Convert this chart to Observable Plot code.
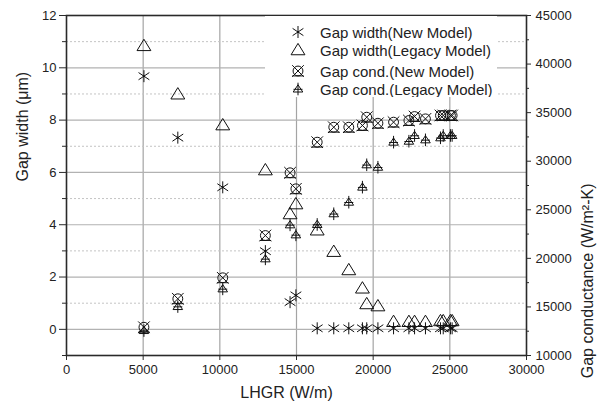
<!DOCTYPE html>
<html>
<head>
<meta charset="utf-8">
<script src="https://cdn.jsdelivr.net/npm/d3@7"></script>
<script src="https://cdn.jsdelivr.net/npm/@observablehq/plot@0.6"></script>
<style>
  html, body { margin: 0; padding: 0; background: #fff; }
  #wrap { position: relative; width: 606px; height: 410px; font-family: "Liberation Sans", Arial, sans-serif; }
  #legend { position: absolute; left: 265px; top: 16px; width: 232px; height: 81px; background: #fff; }
</style>
</head>
<body>
<div id="wrap"><div id="chart"></div><svg id="legend" width="232" height="81"></svg></div>
<script>
// ---- data ----
const lhgr = [5050, 7260, 10190, 12970, 14580, 14960, 16350, 17430, 18410, 19300, 19580, 20310, 21330, 22330, 22700, 23410, 24390, 24570, 25040, 25150];
const gapWidthNew = [9.68, 7.33, 5.43, 2.99, 1.04, 1.30, 0.04, 0.04, 0.04, 0.04, 0.04, 0.04, 0.04, 0.04, 0.04, 0.04, 0.04, 0.04, 0.04, 0.04];
const gapWidthLegacy = [10.84, 8.99, 7.81, 6.09, 4.41, 4.79, 3.79, 2.97, 2.27, 1.57, 0.97, 0.89, 0.29, 0.29, 0.29, 0.29, 0.32, 0.32, 0.32, 0.32];
const gapCondNew = [12910, 15840, 18000, 22350, 28810, 27160, 31960, 33500, 33500, 33680, 34530, 33910, 34020, 34190, 34600, 34360, 34710, 34710, 34710, 34710];
const gapCondLegacy = [12570, 15040, 16860, 19950, 23450, 22420, 23490, 24590, 25780, 27330, 29630, 29380, 31960, 32060, 32650, 32200, 32410, 32650, 32650, 32650];

const seriesNames = ["Gap width(New Model)", "Gap width(Legacy Model)", "Gap cond.(New Model)", "Gap cond.(Legacy Model)"];
const xTicks = [0, 5000, 10000, 15000, 20000, 25000, 30000];
const leftTicks = [0, 2, 4, 6, 8, 10, 12];
const leftMinorTicks = [-1, 1, 3, 5, 7, 9, 11];
const rightTicks = [10000, 15000, 20000, 25000, 30000, 35000, 40000, 45000];
const rightMinorTicks = [12500, 17500, 22500, 27500, 32500, 37500, 42500];

// right axis (conductance) mapped onto the left (width) scale
const leftDomain = [-1, 12];
const rightDomain = [10000, 45000];
const toLeft = c => leftDomain[0] + (c - rightDomain[0]) / (rightDomain[1] - rightDomain[0]) * (leftDomain[1] - leftDomain[0]);
const fromLeft = v => Math.round((rightDomain[0] + (v - leftDomain[0]) / (leftDomain[1] - leftDomain[0]) * (rightDomain[1] - rightDomain[0])) / 10) * 10;

const rows = lhgr.map((x, i) => ({x, wNew: gapWidthNew[i], wLeg: gapWidthLegacy[i], cNew: gapCondNew[i], cLeg: gapCondLegacy[i]}));

// ---- custom symbols ----
const R = s => Math.sqrt(s / Math.PI);
const asterisk = {draw(ctx, size) { const r = R(size);
  ctx.moveTo(0, -r); ctx.lineTo(0, r);
  ctx.moveTo(-r * 0.9, -r * 0.6); ctx.lineTo(r * 0.9, r * 0.6);
  ctx.moveTo(-r * 0.9, r * 0.6); ctx.lineTo(r * 0.9, -r * 0.6);
  ctx.moveTo(0.6, 0); ctx.arc(0, 0, 0.6, 0, 2 * Math.PI);
}};
const triangle = {draw(ctx, size) { const r = R(size);
  ctx.moveTo(0, -r * 1.0); ctx.lineTo(r * 1.05, r * 0.72); ctx.lineTo(-r * 1.05, r * 0.72); ctx.closePath();
}};
const crossCircle = {draw(ctx, size) { const r = R(size);
  const c = r * 0.85;
  ctx.moveTo(c, 0); ctx.arc(0, 0, c, 0, 2 * Math.PI);
  ctx.moveTo(-r, -r); ctx.lineTo(r, r);
  ctx.moveTo(r, -r); ctx.lineTo(-r, r);
  ctx.moveTo(-r, r * 0.85); ctx.lineTo(r, r * 0.85);
}};
const triPlus = {draw(ctx, size) { const r = R(size);
  ctx.moveTo(0, -r * 0.7); ctx.lineTo(r * 0.8, r * 0.5); ctx.lineTo(-r * 0.8, r * 0.5); ctx.closePath();
  ctx.moveTo(0, -r * 1.05); ctx.lineTo(0, r * 1.05);
  ctx.moveTo(-r * 0.75, r * 0.05); ctx.lineTo(r * 0.75, r * 0.05);
}};
const symbols = [asterisk, triangle, crossCircle, triPlus];
const symR = [6, 6.6, 5.8, 6];

const dotStyle = {fill: "none", stroke: "#111", strokeWidth: 1};

const chart = Plot.plot({
  width: 606, height: 410,
  marginLeft: 66, marginRight: 80, marginTop: 15, marginBottom: 55,
  x: {domain: [0, 30000]},
  y: {domain: leftDomain},
  style: {fontFamily: "'Liberation Sans', Arial, sans-serif", fontSize: "13px", color: "#222", background: "#fff"},
  marks: [
    Plot.ruleX(xTicks.slice(1, -1), {stroke: "#a4a4a4", strokeWidth: 1.2}),
    Plot.ruleY(leftTicks.slice(0, -1), {stroke: "#b2b2b2", strokeWidth: 1.2}),
    Plot.ruleY(leftMinorTicks.slice(1), {stroke: "#c4c4c4", strokeWidth: 1, strokeDasharray: "2,2"}),
    Plot.dot(rows, {x: "x", y: "wNew", symbol: asterisk, r: symR[0], ...dotStyle}),
    Plot.dot(rows, {x: "x", y: "wLeg", symbol: triangle, r: symR[1], ...dotStyle}),
    Plot.dot(rows, {x: "x", y: d => toLeft(d.cNew), symbol: crossCircle, r: symR[2], ...dotStyle}),
    Plot.dot(rows, {x: "x", y: d => toLeft(d.cLeg), symbol: triPlus, r: symR[3], ...dotStyle}),
    Plot.frame({stroke: "#2a2a2a", strokeWidth: 1.6}),
    Plot.axisX({ticks: xTicks, tickSize: 5, tickPadding: 4, tickFormat: d => String(d), label: null, stroke: "#2a2a2a"}),
    Plot.axisY({ticks: leftTicks, tickSize: 7, tickPadding: 3, tickFormat: d => String(d), label: null, stroke: "#2a2a2a"}),
    Plot.axisY({ticks: leftMinorTicks, tickSize: 4, text: null, label: null, stroke: "#2a2a2a"}),
    Plot.axisY({anchor: "right", ticks: rightTicks.map(toLeft), tickSize: 4, tickPadding: 5, tickFormat: d => String(fromLeft(d)), label: null, stroke: "#2a2a2a"}),
    Plot.axisY({anchor: "right", ticks: rightMinorTicks.map(toLeft), tickSize: 2, text: null, label: null, stroke: "#2a2a2a"}),
    Plot.text(["LHGR (W/m)"], {frameAnchor: "bottom", dy: 42, dx: -10, fontSize: 16, fill: "#222"}),
    Plot.text(["Gap width (\u03bcm)"], {frameAnchor: "left", dx: -44, dy: -4, rotate: -90, fontSize: 16, fill: "#222"}),
    Plot.text(["Gap conductance (W/m\u00b2-K)"], {frameAnchor: "right", dx: 61, dy: -2, rotate: -90, fontSize: 16, fill: "#222"})
  ]
});
document.getElementById("chart").appendChild(chart);

// ---- legend (overlay with white background) ----
const leg = d3.select("#legend");
const rowY = [16, 34, 55, 73];
seriesNames.forEach((name, i) => {
  const p = d3.path();
  symbols[i].draw(p, Math.PI * symR[i] * symR[i]);
  leg.append("path").attr("d", p.toString()).attr("transform", `translate(33,${rowY[i]})`)
    .attr("fill", "none").attr("stroke", "#111").attr("stroke-width", 1);
  leg.append("text").attr("x", 55).attr("y", rowY[i] + 5.5).text(name)
    .attr("font-size", 15).attr("fill", "#222").attr("font-family", "'Liberation Sans', Arial, sans-serif");
});
</script>
</body>
</html>
